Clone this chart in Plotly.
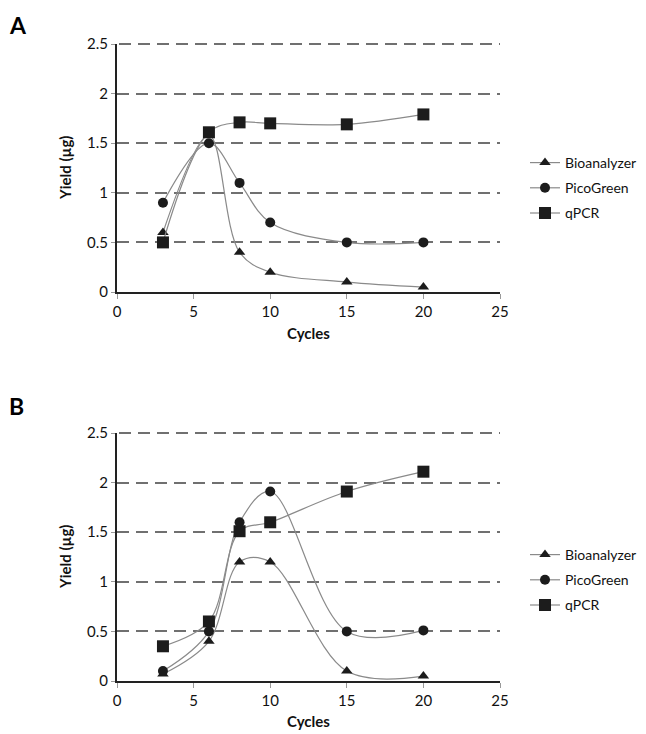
import plotly.graph_objects as go

cycles = [3, 6, 8, 10, 15, 20]

a_bioanalyzer = [0.6, 1.58, 0.4, 0.2, 0.1, 0.05]
a_picogreen = [0.9, 1.5, 1.1, 0.7, 0.5, 0.5]
a_qpcr = [0.5, 1.61, 1.71, 1.70, 1.69, 1.79]

b_bioanalyzer = [0.07, 0.4, 1.2, 1.2, 0.1, 0.05]
b_picogreen = [0.1, 0.5, 1.6, 1.91, 0.5, 0.51]
b_qpcr = [0.35, 0.6, 1.51, 1.6, 1.91, 2.11]

series_names = ["Bioanalyzer", "PicoGreen", "qPCR"]
symbols = ["triangle-up", "circle", "square"]
msizes = [10, 10, 12]

FONT = "Lato, 'Open Sans', sans-serif"
LINE_COLOR = "#8a8a8a"
MARK_COLOR = "#1c1c1c"
GRID_COLOR = "#707070"
W, H = 646, 734

def px_x(p):
    return p / W

def px_y(p):
    return 1 - p / H

fig = go.Figure()

panels = [
    ("x", "y", "legend", "a", [a_bioanalyzer, a_picogreen, a_qpcr]),
    ("x2", "y2", "legend2", "b", [b_bioanalyzer, b_picogreen, b_qpcr]),
]
for xa, ya, lg, key, data in panels:
    for i, (name, sym, ms, vals) in enumerate(zip(series_names, symbols, msizes, data)):
        fig.add_trace(go.Scatter(
            x=cycles, y=vals, name=name, xaxis=xa, yaxis=ya, legend=lg,
            legendgroup=key + str(i),
            mode="lines+markers",
            line=dict(color=LINE_COLOR, width=1.2, shape="spline", smoothing=1.0),
            marker=dict(symbol=sym, size=ms, color=MARK_COLOR),
        ))

xaxis_common = dict(
    range=[0, 25], dtick=5, tick0=0, showgrid=False, zeroline=False,
    showline=True, linecolor="#222", linewidth=2, ticks="outside",
    ticklen=5, tickcolor="#999", tickwidth=1.2, automargin=False,
    tickfont=dict(family=FONT, size=15, color="#111"),
)
yaxis_common = dict(
    range=[0, 2.5], dtick=0.5, tick0=0, showgrid=True, gridcolor=GRID_COLOR,
    gridwidth=1.8, griddash="12px,7px", zeroline=False,
    showline=True, linecolor="#222", linewidth=2, ticks="outside",
    ticklen=4, tickcolor="#999", tickwidth=1.2, automargin=False,
    tickfont=dict(family=FONT, size=15, color="#111"),
)

x_dom = [px_x(117), px_x(500)]
ya_dom = [px_y(292), px_y(44)]
yb_dom = [px_y(681), px_y(433)]

legend_common = dict(xanchor="left", yanchor="top",
                     font=dict(family=FONT, size=14, color="#111"),
                     tracegroupgap=4, itemwidth=30, bgcolor="rgba(0,0,0,0)")

annotations = [
    dict(text="<b>A</b>", x=px_x(7), y=px_y(25), xanchor="left", yanchor="middle",
         font=dict(family=FONT, size=23, color="#000")),
    dict(text="<b>B</b>", x=px_x(7), y=px_y(406), xanchor="left", yanchor="middle",
         font=dict(family=FONT, size=23, color="#000")),
    dict(text="<b>Yield (µg)</b>", x=px_x(65), y=px_y(168), textangle=-90,
         xanchor="center", yanchor="middle", font=dict(family=FONT, size=15, color="#111")),
    dict(text="<b>Yield (µg)</b>", x=px_x(65), y=px_y(557), textangle=-90,
         xanchor="center", yanchor="middle", font=dict(family=FONT, size=15, color="#111")),
    dict(text="<b>Cycles</b>", x=px_x(308), y=px_y(333), xanchor="center",
         yanchor="middle", font=dict(family=FONT, size=15, color="#111")),
    dict(text="<b>Cycles</b>", x=px_x(308), y=px_y(721), xanchor="center",
         yanchor="middle", font=dict(family=FONT, size=15, color="#111")),
]
for a in annotations:
    a.update(xref="paper", yref="paper", showarrow=False)

shapes = []
for dom in [ya_dom, yb_dom]:
    shapes.append(dict(type="line", xref="paper", yref="paper",
                       x0=px_x(119), x1=x_dom[1], y0=dom[1], y1=dom[1], layer="below",
                       line=dict(color=GRID_COLOR, width=1.8, dash="12px,7px")))

fig.update_layout(
    width=W, height=H,
    margin=dict(l=0, r=0, t=0, b=0),
    paper_bgcolor="white", plot_bgcolor="white",
    font=dict(family=FONT, size=14, color="#111"),
    xaxis=dict(domain=x_dom, anchor="y", **xaxis_common),
    yaxis=dict(domain=ya_dom, anchor="x", **yaxis_common),
    xaxis2=dict(domain=x_dom, anchor="y2", **xaxis_common),
    yaxis2=dict(domain=yb_dom, anchor="x2", **yaxis_common),
    legend=dict(x=px_x(525), y=px_y(147), **legend_common),
    legend2=dict(x=px_x(525), y=px_y(539), **legend_common),
    annotations=annotations,
    shapes=shapes,
)

fig.write_html(
    "out.html",
    config={"displayModeBar": False},
    post_script="document.body.style.margin='0px';document.body.style.overflow='hidden';",
)
